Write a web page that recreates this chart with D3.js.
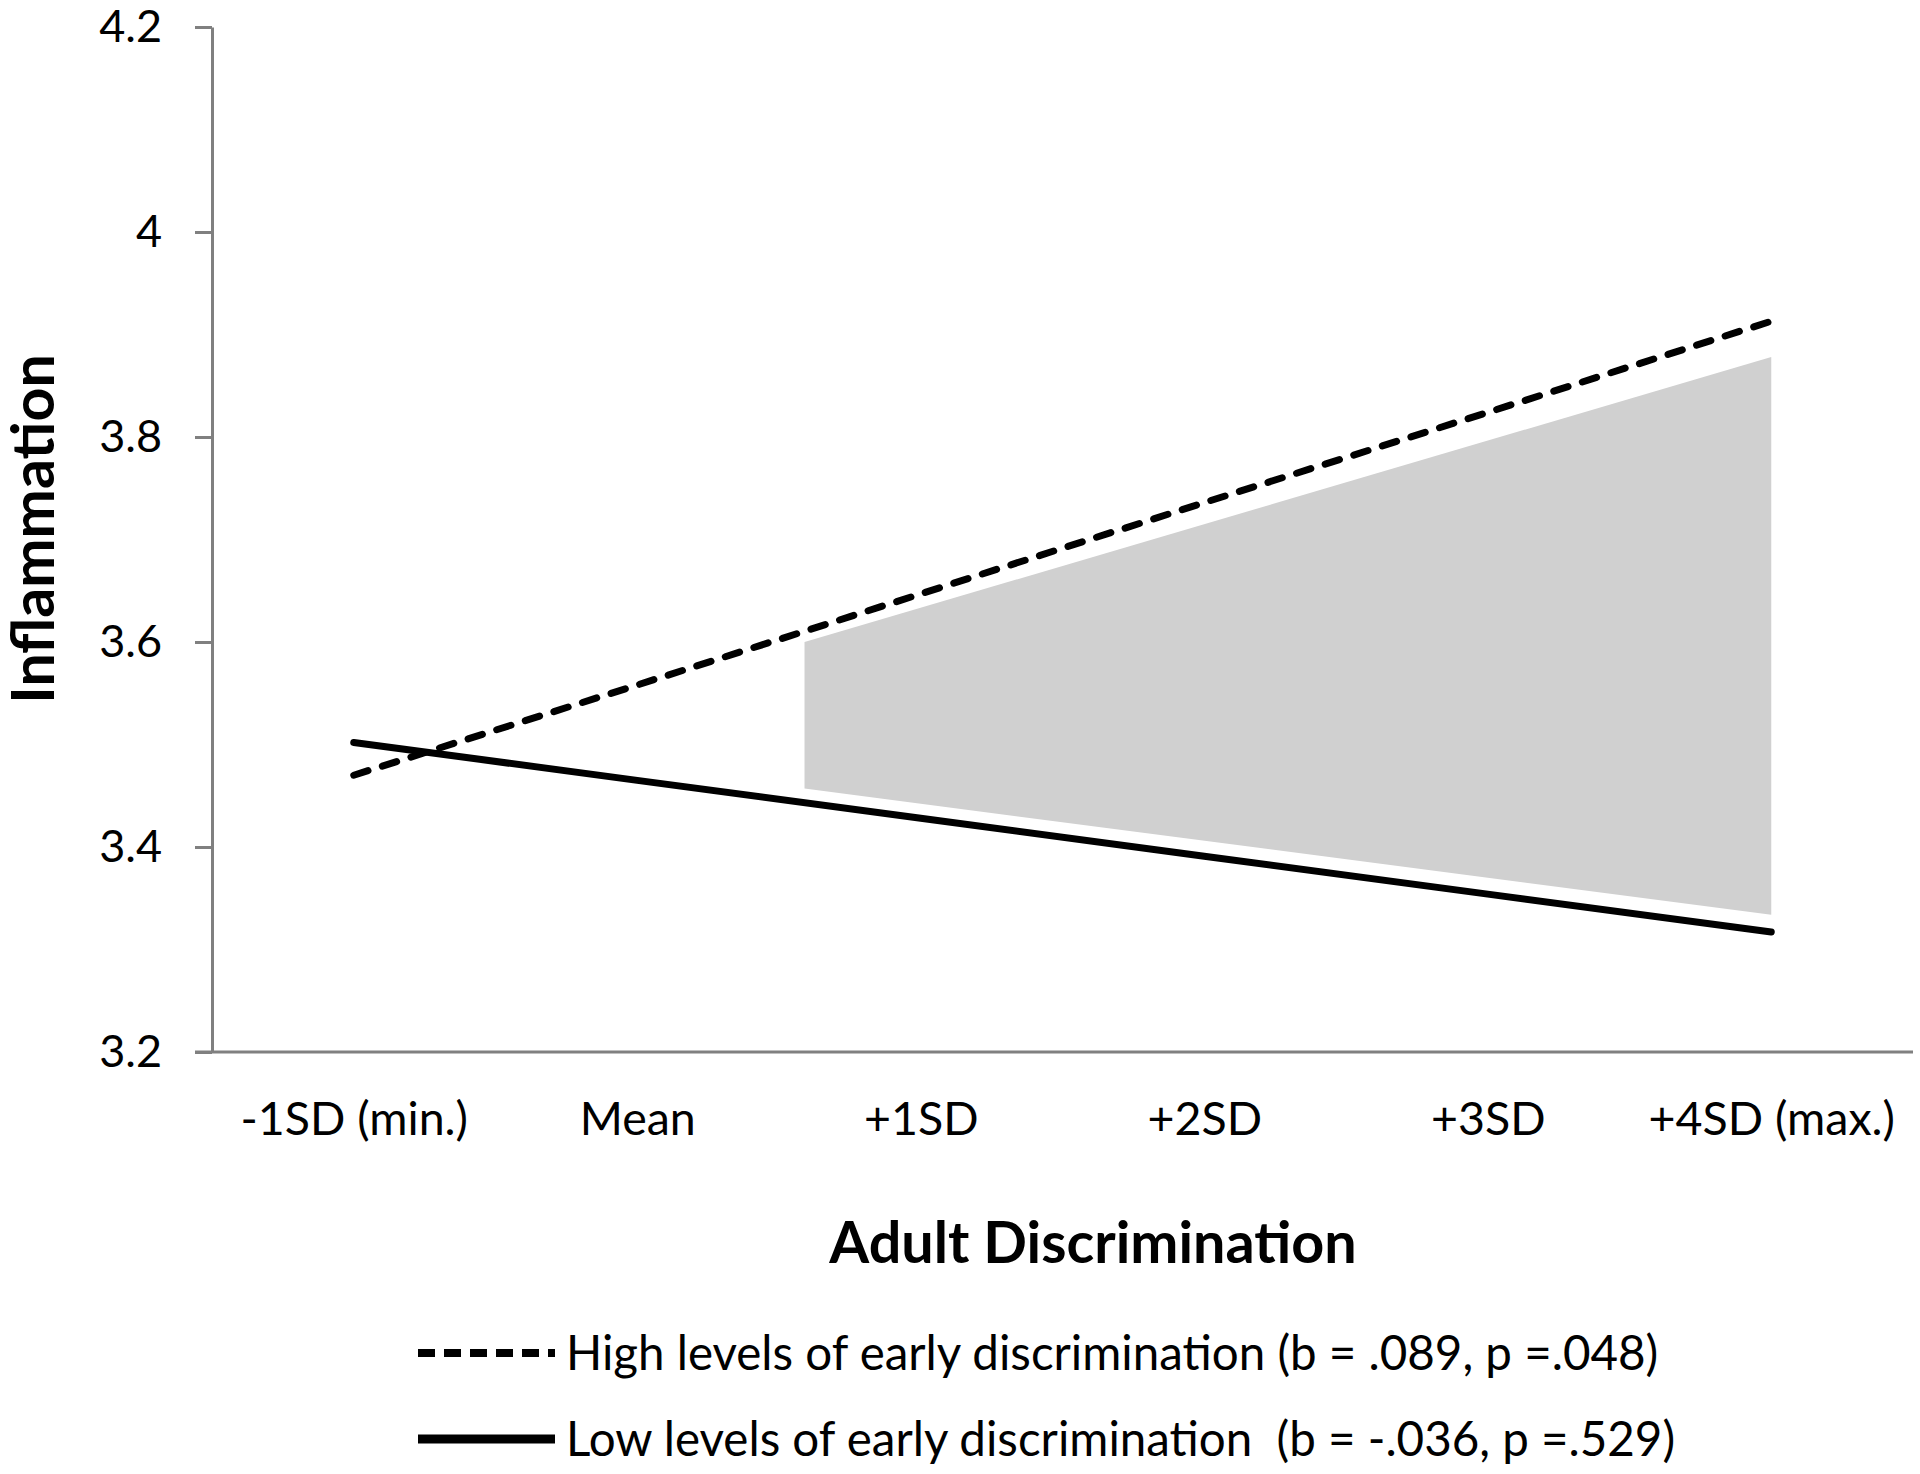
<!DOCTYPE html>
<html>
<head>
<meta charset="utf-8">
<script src="https://cdn.jsdelivr.net/npm/d3@7"></script>
<style>
  html, body { margin: 0; padding: 0; background: #ffffff; }
  svg { display: block; }
</style>
</head>
<body>
<svg id="chart" width="1920" height="1474"></svg>
<script>
// ---- data ----
const categories = ["-1SD (min.)", "Mean", "+1SD", "+2SD", "+3SD", "+4SD (max.)"];
const highValues = [3.470, 3.558, 3.647, 3.736, 3.824, 3.913];
const lowValues  = [3.502, 3.465, 3.428, 3.391, 3.354, 3.317];
const yTickValues = [3.2, 3.4, 3.6, 3.8, 4, 4.2];
const yTickLabels = ["3.2", "3.4", "3.6", "3.8", "4", "4.2"];
// shaded region of significance (x in category-index units)
const regionX      = [1.59, 5.0];
const regionTop    = [3.600, 3.878];
const regionBottom = [3.457, 3.334];
const legendLabels = [
  "High levels of early discrimination (b = .089, p =.048)",
  "Low levels of early discrimination  (b = -.036, p =.529)"
];
const xTitle = "Adult Discrimination";
const yTitle = "Inflammation";

// ---- layout ----
const svg = d3.select("#chart");
const mLeft = 212, mRight = 1913, mTop = 27, mBottom = 1052;
const font = "Lato, 'Open Sans', sans-serif";

const x = d3.scaleLinear().domain([-0.5, categories.length - 0.5]).range([mLeft, mRight]);
const y = d3.scaleLinear().domain([3.2, 4.2]).range([mBottom, mTop]);

// shaded region
const regionPts = regionX.map((xv, i) => ({x: xv, y0: regionBottom[i], y1: regionTop[i]}));
svg.append("path")
  .datum(regionPts)
  .attr("fill", "#d0d0d0")
  .attr("d", d3.area().x(d => x(d.x)).y0(d => y(d.y0)).y1(d => y(d.y1)));

// axes
const yAxis = d3.axisLeft(y).tickValues(yTickValues)
  .tickFormat((d, i) => yTickLabels[i]).tickSize(17).tickPadding(33).tickSizeOuter(0);
const gy = svg.append("g").attr("transform", `translate(${mLeft},0)`).call(yAxis);
gy.selectAll("line, path").attr("stroke", "#808080").attr("stroke-width", 3);
gy.selectAll("text").attr("font-family", font).attr("font-size", 45).attr("fill", "#000");

const xAxis = d3.axisBottom(x).tickValues(d3.range(categories.length))
  .tickFormat(i => categories[i]).tickSize(0).tickPadding(50).tickSizeOuter(0);
const gx = svg.append("g").attr("transform", `translate(0,${mBottom})`).call(xAxis);
gx.select("path.domain").attr("stroke", "#808080").attr("stroke-width", 3)
  .attr("d", `M${mLeft - 17},0H${mRight}`);
gx.selectAll("text").attr("font-family", font).attr("font-size", 46.5).attr("fill", "#000");

// lines
const line = d3.line().x((d, i) => x(i)).y(d => y(d));
svg.append("path").datum(lowValues)
  .attr("fill", "none").attr("stroke", "#000").attr("stroke-width", 7)
  .attr("stroke-linecap", "round").attr("d", line);
svg.append("path").datum(highValues)
  .attr("fill", "none").attr("stroke", "#000").attr("stroke-width", 7)
  .attr("stroke-linecap", "round").attr("stroke-dasharray", "15,15").attr("d", line);

// titles
svg.append("text").text(xTitle)
  .attr("x", 1093).attr("y", 1263).attr("text-anchor", "middle")
  .attr("font-family", font).attr("font-weight", "bold").attr("font-size", 57.5).attr("fill", "#000");
svg.append("text").text(yTitle)
  .attr("transform", "translate(54,529) rotate(-90)").attr("text-anchor", "middle")
  .attr("font-family", font).attr("font-weight", "bold").attr("font-size", 59).attr("fill", "#000");

// legend
const legY = [1353, 1439];
const leg = svg.append("g");
legendLabels.forEach((lab, i) => {
  const l = leg.append("line").attr("x1", 418).attr("x2", 555)
    .attr("y1", legY[i]).attr("y2", legY[i])
    .attr("stroke", "#000").attr("stroke-width", i === 0 ? 8 : 9);
  if (i === 0) l.attr("stroke-dasharray", "17,9").attr("stroke-linecap", "butt");
  leg.append("text").text(lab).attr("x", 566).attr("y", legY[i] + 17)
    .attr("font-family", font).attr("font-size", 47.5).attr("fill", "#000")
    .style("white-space", "pre");
});
</script>
</body>
</html>
